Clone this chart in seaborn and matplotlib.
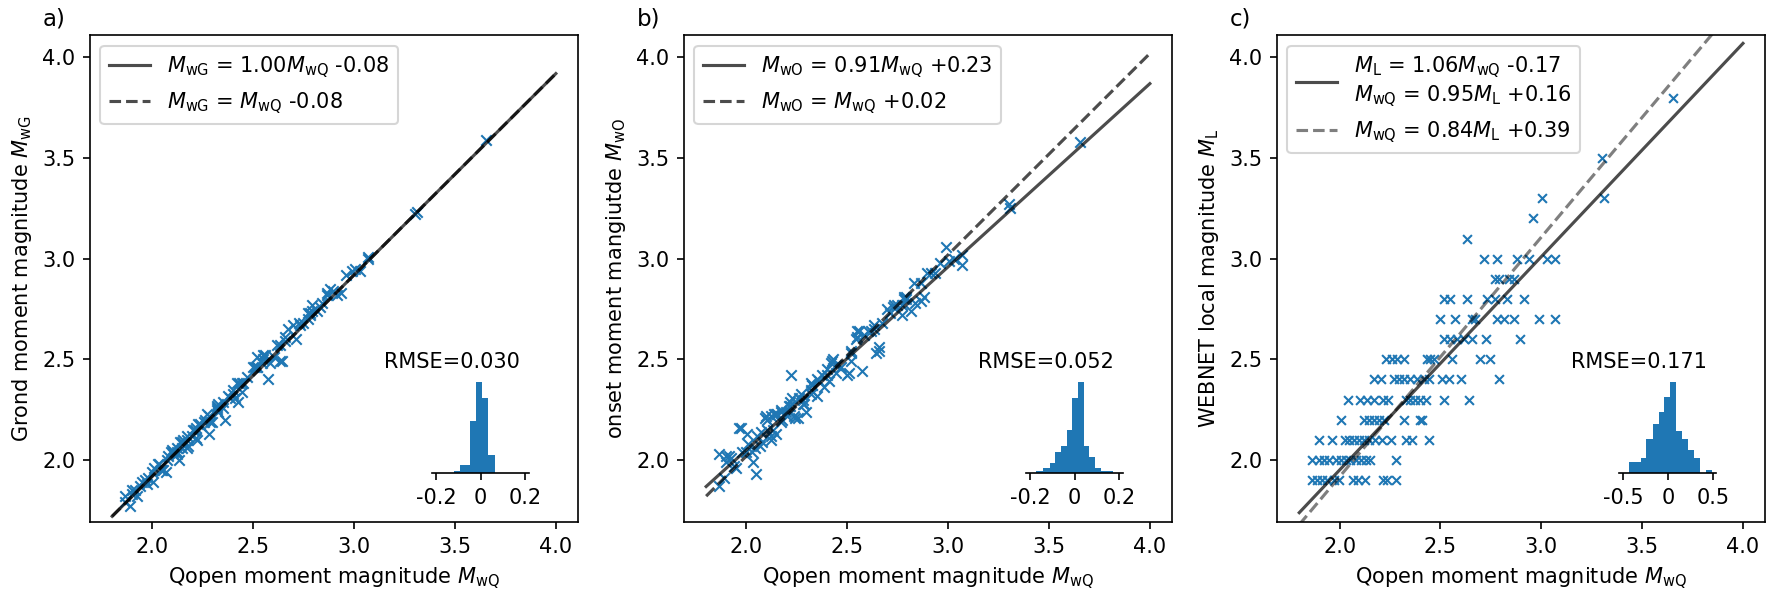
import numpy as np
import matplotlib
matplotlib.use("Agg")
import matplotlib.pyplot as plt
import seaborn as sns

# Qopen moment magnitude (shared by all panels), grouped by WEBNET ML row
mwq = [1.865, 1.889, 1.914, 1.939, 1.972, 1.997, 2.068, 2.091, 2.124, 2.216, 2.236, 2.282,
       1.865, 1.898, 1.922, 1.947, 1.980, 2.005, 2.030, 2.054, 2.079, 2.104, 2.129, 2.153, 2.282,
       1.898, 1.964, 2.025, 2.046, 2.071, 2.096, 2.120, 2.145, 2.178, 2.211, 2.256, 2.327, 2.360, 2.442,
       2.008, 2.120, 2.145, 2.170, 2.195, 2.219, 2.318, 2.398, 2.411,
       2.041, 2.101, 2.137, 2.170, 2.216, 2.239, 2.327, 2.351, 2.376, 2.401, 2.426, 2.520, 2.640,
       2.170, 2.203, 2.269, 2.294, 2.318, 2.351, 2.384, 2.417, 2.442, 2.508, 2.541, 2.602, 2.789,
       2.228, 2.261, 2.285, 2.318, 2.431, 2.450, 2.470, 2.558, 2.695, 2.748,
       2.516, 2.549, 2.582, 2.615, 2.657, 2.728, 2.896,
       2.500, 2.574, 2.657, 2.673, 2.781, 2.814, 2.863, 2.987, 3.069,
       2.516, 2.549, 2.632, 2.731, 2.772, 2.830, 2.913,
       2.772, 2.789, 2.838, 2.863,
       2.714, 2.781, 2.880, 2.937, 3.028, 3.069,
       2.632, 2.958, 3.003, 3.309, 3.300, 3.655]

ml = [1.9] * 12 + [2.0] * 13 + [2.1] * 14 + [2.2] * 9 + [2.3] * 13 + [2.4] * 13 + [2.5] * 10 \
     + [2.6] * 7 + [2.7] * 9 + [2.8] * 7 + [2.9] * 4 + [3.0] * 6 + [3.1, 3.2, 3.3, 3.3, 3.5, 3.8]

mwg = [1.82, 1.77, 1.85, 1.87, 1.88, 1.94, 1.94, 2.04, 2.04, 2.11, 2.18, 2.13,
       1.79, 1.85, 1.82, 1.89, 1.91, 1.89, 1.98, 1.95, 2.02, 2.03, 2.00, 2.10, 2.22,
       1.83, 1.90, 1.98, 1.95, 2.00, 2.05, 2.03, 2.09, 2.07, 2.15, 2.19, 2.24, 2.20, 2.38,
       1.96, 2.06, 2.06, 2.12, 2.12, 2.10, 2.26, 2.33, 2.31,
       1.95, 2.04, 2.09, 2.06, 2.16, 2.17, 2.28, 2.26, 2.32, 2.35, 2.29, 2.46, 2.49,
       2.10, 2.15, 2.23, 2.19, 2.27, 2.29, 2.31, 2.38, 2.34, 2.46, 2.48, 2.51, 2.74,
       2.18, 2.20, 2.19, 2.25, 2.38, 2.38, 2.41, 2.52, 2.67, 2.68,
       2.46, 2.52, 2.48, 2.57, 2.59, 2.68, 2.84,
       2.46, 2.40, 2.61, 2.65, 2.72, 2.74, 2.82, 2.94, 3.00,
       2.51, 2.50, 2.49, 2.67, 2.73, 2.76, 2.82,
       2.70, 2.77, 2.78, 2.83,
       2.60, 2.73, 2.85, 2.83, 2.94, 3.01,
       2.57, 2.92, 2.95, 3.23, 3.22, 3.59]

mwo = [2.03, 1.91, 2.02, 1.97, 2.16, 2.04, 2.07, 2.21, 2.10, 2.27, 2.22, 2.28,
       1.87, 2.02, 2.01, 1.96, 2.04, 2.13, 1.99, 2.12, 2.09, 2.20, 2.15, 2.23, 2.30,
       1.99, 2.16, 2.04, 1.93, 2.14, 2.22, 2.12, 2.23, 2.20, 2.27, 2.21, 2.37, 2.39, 2.43,
       2.08, 2.22, 2.13, 2.24, 2.24, 2.42, 2.33, 2.45, 2.39,
       2.06, 2.15, 2.23, 2.19, 2.29, 2.21, 2.37, 2.32, 2.42, 2.42, 2.49, 2.54, 2.53,
       2.25, 2.22, 2.33, 2.24, 2.35, 2.40, 2.36, 2.48, 2.47, 2.43, 2.60, 2.64, 2.80,
       2.31, 2.31, 2.28, 2.38, 2.50, 2.47, 2.46, 2.64, 2.75, 2.77,
       2.49, 2.61, 2.62, 2.64, 2.56, 2.76, 2.93,
       2.42, 2.44, 2.54, 2.68, 2.80, 2.74, 2.79, 3.06, 3.02,
       2.53, 2.64, 2.65, 2.77, 2.72, 2.88, 2.93,
       2.77, 2.81, 2.78, 2.88,
       2.73, 2.81, 2.81, 2.93, 3.00, 2.97,
       2.67, 2.98, 2.99, 3.25, 3.27, 3.58]

# residual histograms (bin edges and counts)
edges_a = [-0.118, -0.094, -0.070, -0.046, -0.022, 0.007, 0.035, 0.064]
counts_a = [1, 4, 4, 25, 44, 36, 9]
edges_b = [-0.173, -0.143, -0.113, -0.087, -0.061, -0.036, -0.012, 0.015, 0.040,
           0.066, 0.093, 0.118, 0.145, 0.170]
counts_b = [1, 2, 4, 8, 10, 16, 28, 34, 10, 6, 2, 1, 1]
edges_c = [-0.432, -0.365, -0.301, -0.237, -0.169, -0.102, -0.038, 0.030, 0.094,
           0.162, 0.226, 0.289, 0.357, 0.425, 0.489]
counts_c = [3, 3, 4, 9, 13, 16, 20, 24, 11, 9, 6, 4, 0, 1]

rmse = ["RMSE=0.030", "RMSE=0.052", "RMSE=0.171"]
fit_x = np.array([1.8, 4.0])

fig = plt.figure(figsize=(1771 / 150, 591 / 150), dpi=150)
lefts = [0.0508, 0.3862, 0.7211]
axes = [fig.add_axes([l, 0.1162, 0.2756, 0.824]) for l in lefts]

xlab = r"Qopen moment magnitude $M_\mathrm{wQ}$"

# a) Grond
ax = axes[0]
sns.scatterplot(x=mwq, y=mwg, marker="x", color="C0", s=25, linewidth=1.0, ax=ax)
ax.plot(fit_x, 1.00 * fit_x - 0.08, color="k", alpha=0.7,
        label=r"$M_\mathrm{wG}$ = 1.00$M_\mathrm{wQ}$ -0.08")
ax.plot(fit_x, fit_x - 0.08, color="k", alpha=0.7, ls="--",
        label=r"$M_\mathrm{wG}$ = $M_\mathrm{wQ}$ -0.08")
ax.set_ylabel(r"Grond moment magnitude $M_\mathrm{wG}$")

# b) onset
ax = axes[1]
sns.scatterplot(x=mwq, y=mwo, marker="x", color="C0", s=25, linewidth=1.0, ax=ax)
ax.plot(fit_x, 0.91 * fit_x + 0.23, color="k", alpha=0.7,
        label=r"$M_\mathrm{wO}$ = 0.91$M_\mathrm{wQ}$ +0.23")
ax.plot(fit_x, fit_x + 0.02, color="k", alpha=0.7, ls="--",
        label=r"$M_\mathrm{wO}$ = $M_\mathrm{wQ}$ +0.02")
ax.set_ylabel(r"onset moment mangiutde $M_\mathrm{wO}$")

# c) WEBNET local magnitude
ax = axes[2]
sns.scatterplot(x=mwq, y=ml, marker="x", color="C0", s=18, linewidth=1.0, ax=ax)
ax.plot(fit_x, 1.06 * fit_x - 0.17, color="k", alpha=0.7,
        label=r"$M_\mathrm{L}$ = 1.06$M_\mathrm{wQ}$ -0.17" + "\n"
              + r"$M_\mathrm{wQ}$ = 0.95$M_\mathrm{L}$ +0.16")
ax.plot(fit_x, (fit_x - 0.39) / 0.84, color="k", alpha=0.5, ls="--",
        label=r"$M_\mathrm{wQ}$ = 0.84$M_\mathrm{L}$ +0.39")
ax.set_ylabel(r"WEBNET local magnitude $M_\mathrm{L}$")

hists = [(edges_a, counts_a, 0.218, [-0.2, 0, 0.2], ["-0.2", "0", "0.2"]),
         (edges_b, counts_b, 0.218, [-0.2, 0, 0.2], ["-0.2", "0", "0.2"]),
         (edges_c, counts_c, 0.54, [-0.5, 0, 0.5], ["-0.5", "0", "0.5"])]

for ax, lab, txt, (edges, counts, lim, ticks, tlabs) in zip(axes, ["a)", "b)", "c)"], rmse, hists):
    ax.set_xlim(1.69, 4.11)
    ax.set_ylim(1.69, 4.11)
    ax.set_xticks([2.0, 2.5, 3.0, 3.5, 4.0])
    ax.set_yticks([2.0, 2.5, 3.0, 3.5, 4.0])
    ax.set_xlabel(xlab)
    ax.legend(loc="upper left")
    ax.text(-0.096, 1.034, lab, transform=ax.transAxes, fontsize=11, va="center", ha="left")
    ax.text(0.742, 0.329, txt, transform=ax.transAxes, ha="center", va="center", fontsize=10)

    ins = ax.inset_axes([0.701, 0.1006, 0.199, 0.188])
    centers = [(edges[i] + edges[i + 1]) / 2 for i in range(len(counts))]
    sns.histplot(x=centers, weights=counts, bins=edges, color="C0", alpha=1,
                 linewidth=0, ax=ins)
    ins.set_xlim(-lim, lim)
    ins.set_ylim(0, max(counts))
    ins.set_xticks(ticks)
    ins.set_xticklabels(tlabs)
    ins.set_yticks([])
    ins.set_xlabel("")
    ins.set_ylabel("")
    for s in ["left", "top", "right"]:
        ins.spines[s].set_visible(False)
    ins.patch.set_alpha(0)

fig.savefig("out.png", dpi=150)
